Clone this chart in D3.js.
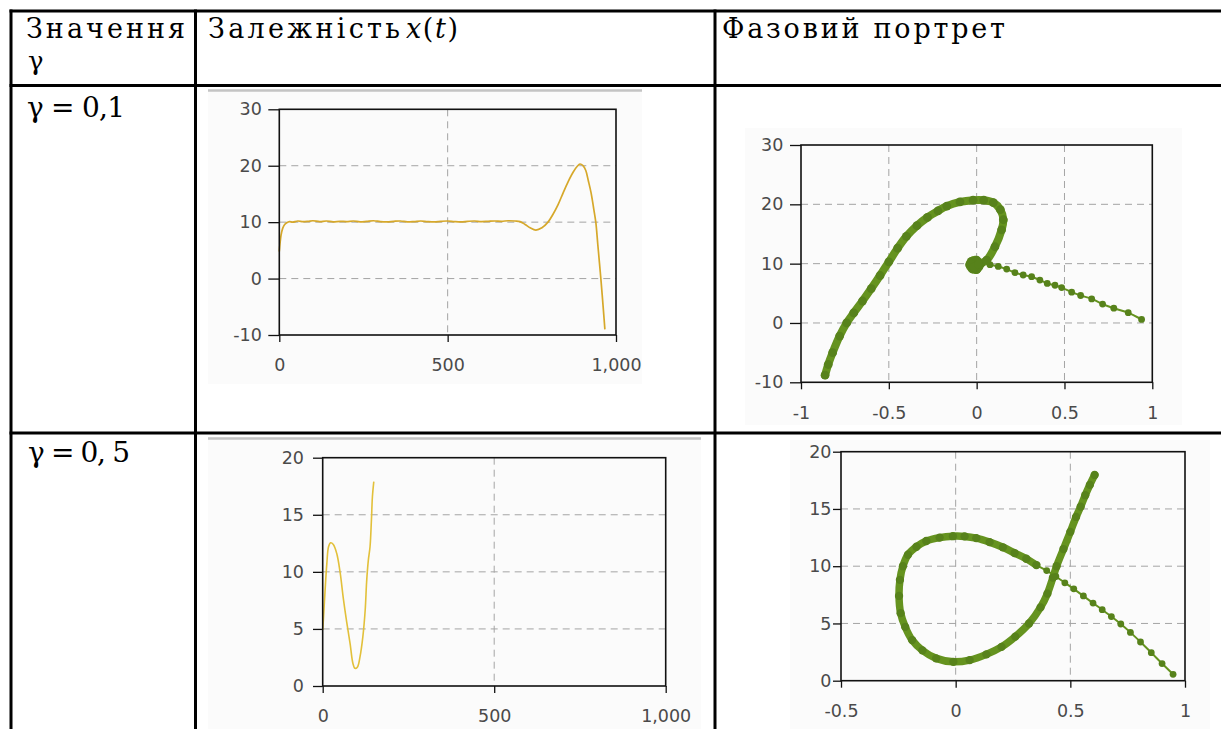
<!DOCTYPE html>
<html>
<head>
<meta charset="utf-8">
<script src="https://cdn.jsdelivr.net/npm/d3@7"></script>
<style>
  body { margin: 0; background: #fff; }
  svg { display: block; }
</style>
</head>
<body>
<svg id="c" width="1221" height="729"></svg>
<script>
// ---- table text ----
const headValue = "Значення";
const headGamma = "γ";
const headTime = "Залежність";
const headPhase = "Фазовий портрет";
const rowLabels = ["γ = 0,1", "γ = 0, 5"];

// ---- tick values ----
const timeTicks = [0, 500, 1000];
const xTicks01 = [-10, 0, 10, 20, 30];
const vTicks01 = [-1, -0.5, 0, 0.5, 1];
const xTicks05 = [0, 5, 10, 15, 20];
const vTicks05 = [-0.5, 0, 0.5, 1];

// ---- x(t), gamma = 0.1 ----
const t01 = [0, 5, 10, 16, 22, 30, 40, 55, 70, 85,
  100, 120, 140, 160, 180, 200, 220, 240, 260, 280,
  300, 320, 340, 360, 380, 400, 420, 440, 460, 480,
  500, 520, 540, 560, 580, 600, 620, 640, 660, 680, 700,
  715, 730, 745, 762, 780, 798, 813, 828, 843, 858,
  873, 885, 893, 902, 910, 918, 926, 934, 940, 946,
  951, 955, 959, 963, 967];
const x01 = [4.8, 7.6, 8.9, 9.6, 9.9, 10.1, 10.0, 10.2, 10.1, 10.15,
  10.25, 10.1, 10.2, 10.05, 10.15, 10.1, 10.2, 10.05, 10.15, 10.25,
  10.1, 10.05, 10.15, 10.2, 10.05, 10.1, 10.2, 10.1, 10.05, 10.15,
  10.2, 10.1, 10.05, 10.15, 10.2, 10.1, 10.15, 10.2, 10.15, 10.25, 10.2,
  10.1, 9.6, 9.0, 8.6, 9.0, 10.0, 11.4, 13.1, 15.2, 17.2,
  18.9, 19.9, 20.3, 20.0, 19.2, 17.3, 15.2, 12.3, 10.0, 6.0,
  2.7, 0.0, -2.9, -5.9, -9.0];

// ---- x(t), gamma = 0.5 ----
const t05 = [0, 2, 7, 12, 17, 23, 31, 41, 51, 60, 70, 80, 88, 94, 101, 109, 117, 124, 128, 133, 138, 142, 145, 149];
const x05 = [4.9, 5.8, 8.4, 10.7, 12.2, 12.55, 12.4, 11.6, 9.9, 7.7, 5.6, 3.7, 2.0, 1.55, 1.65, 2.6, 4.3, 6.7, 9.1, 11.0, 12.2, 14.5, 16.6, 17.9];

// ---- phase portrait, gamma = 0.1 (velocity, position) ----
const runV01 = [0.939, 0.863, 0.781, 0.717, 0.655, 0.592, 0.541, 0.484, 0.446, 0.402, 0.36, 0.313, 0.265, 0.218, 0.171, 0.123, 0.076, 0.03];
const runX01 = [0.59, 1.73, 2.49, 3.19, 4.06, 4.63, 5.2, 5.96, 6.36, 6.66, 7.23, 7.8, 8.09, 8.49, 9.08, 9.53, 9.83, 10.0];
const loopV01 = [0.02, 0.0, -0.03, -0.04, -0.025, 0.0, 0.015, -0.01, -0.035, -0.015,
  0.01, 0.057, 0.104, 0.142, 0.152, 0.135, 0.095, 0.04, -0.02, -0.095,
  -0.17, -0.22, -0.28, -0.34, -0.40, -0.45, -0.50, -0.55, -0.60, -0.65,
  -0.70, -0.74, -0.78, -0.82, -0.845, -0.863];
const loopX01 = [10.0, 10.6, 10.4, 9.8, 9.1, 9.0, 9.6, 10.3, 10.0, 9.4,
  9.9, 10.6, 12.85, 15.7, 17.4, 19.1, 20.3, 20.7, 20.7, 20.4,
  19.7, 18.9, 17.8, 16.4, 14.6, 12.6, 10.3, 8.0, 5.8, 3.7,
  1.7, 0.0, -2.2, -5.0, -7.0, -8.8];

// ---- phase portrait, gamma = 0.5 ----
const runV05 = [0.948, 0.900, 0.853, 0.806, 0.762, 0.720, 0.679, 0.639, 0.599, 0.557, 0.515, 0.476, 0.437, 0.397];
const runX05 = [0.56, 1.50, 2.45, 3.38, 4.22, 4.95, 5.60, 6.20, 6.78, 7.40, 8.02, 8.55, 9.10, 9.62];
const loopV05 = [0.352, 0.308, 0.257, 0.206, 0.148, 0.09, 0.039, -0.012, -0.07, -0.128,
  -0.171, -0.208, -0.23, -0.243, -0.247, -0.24, -0.22, -0.19, -0.145, -0.085,
  -0.01, 0.061, 0.134, 0.2, 0.26, 0.32, 0.37, 0.40, 0.424, 0.44,
  0.47, 0.50, 0.525, 0.545, 0.565, 0.585, 0.606];
const loopX05 = [10.1, 10.65, 11.15, 11.65, 12.1, 12.45, 12.6, 12.62, 12.5, 12.2,
  11.7, 11.0, 10.0, 8.8, 7.4, 5.9, 4.7, 3.55, 2.65, 1.95,
  1.65, 1.8, 2.3, 2.95, 3.85, 5.0, 6.4, 7.6, 9.0, 10.0,
  11.5, 13.0, 14.3, 15.2, 16.2, 17.1, 17.97];

// ---- drawing ----
const svg = d3.select("#c");
const defs = svg.append("defs");
const locale = d3.formatLocale({decimal: ".", thousands: ",", grouping: [3], currency: ["", ""], minus: "-"});
const fmtTime = locale.format(",");
const fmtPlain = locale.format("");

const zip = (a, b) => a.map((v, i) => [v, b[i]]);

const TICK_FONT = "DejaVu Sans";
const TICK_COLOR = "#4a4a4a";
const GRID_COLOR = "#a4a4a4";
const GOLD = "#d6a82a";
const GOLD_LIGHT = "#e2c03a";
const GREEN_LINE = "#65931f";
const GREEN_DOT = "#57821b";

function panel(cfg, idx) {
  const g = svg.append("g");
  if (cfg.clip) {
    defs.append("clipPath").attr("id", "clip" + idx)
      .append("rect").attr("x", cfg.box[0]).attr("y", cfg.box[1])
      .attr("width", cfg.box[2]).attr("height", cfg.box[3]);
    g.attr("clip-path", `url(#clip${idx})`);
  }
  g.append("rect")
    .attr("x", cfg.box[0]).attr("y", cfg.box[1])
    .attr("width", cfg.box[2]).attr("height", cfg.box[3])
    .attr("fill", "#fbfbfb");
  if (cfg.rule) {
    g.append("line")
      .attr("x1", cfg.box[0]).attr("x2", cfg.box[0] + cfg.box[2])
      .attr("y1", cfg.box[1] + 1.5).attr("y2", cfg.box[1] + 1.5)
      .attr("stroke", "#c4c4c4").attr("stroke-width", 2.5);
  }
  const x = d3.scaleLinear().domain(cfg.xDomain).range(cfg.xRange);
  const y = d3.scaleLinear().domain(cfg.yDomain).range(cfg.yRange);
  const [x0, x1] = cfg.xRange, [y0, y1] = cfg.yRange;

  const grid = g.append("g").attr("stroke", GRID_COLOR).attr("stroke-width", 1).attr("stroke-dasharray", "7,5");
  grid.selectAll("line.h")
    .data(cfg.yTicks.filter(v => v !== cfg.yDomain[0] && v !== cfg.yDomain[1]))
    .join("line").attr("class", "h")
    .attr("x1", x0).attr("x2", x1).attr("y1", d => y(d)).attr("y2", d => y(d));
  grid.selectAll("line.v")
    .data(cfg.xTicks.filter(v => v !== cfg.xDomain[0] && v !== cfg.xDomain[1]))
    .join("line").attr("class", "v")
    .attr("y1", y1).attr("y2", y0).attr("x1", d => x(d)).attr("x2", d => x(d));

  const xAxis = g.append("g").attr("transform", `translate(0,${y0})`)
    .call(d3.axisBottom(x).tickValues(cfg.xTicks).tickFormat(cfg.xFmt)
      .tickSizeInner(7).tickSizeOuter(0).tickPadding(17));
  const yAxis = g.append("g").attr("transform", `translate(${x0},0)`)
    .call(d3.axisLeft(y).tickValues(cfg.yTicks).tickFormat(fmtPlain)
      .tickSizeInner(cfg.yTick).tickSizeOuter(0).tickPadding(cfg.yPad));
  [xAxis, yAxis].forEach(a => {
    a.select(".domain").remove();
    a.attr("font-family", TICK_FONT).attr("font-size", 17.5);
    a.selectAll(".tick line").attr("stroke", "#111").attr("stroke-width", 1.3);
    a.selectAll(".tick text").attr("fill", TICK_COLOR);
  });

  const frame = () => g.append("rect")
    .attr("x", x0).attr("y", y1).attr("width", x1 - x0).attr("height", y0 - y1)
    .attr("fill", "none").attr("stroke", "#111").attr("stroke-width", 1.6);
  return {g, x, y, frame};
}

// table frame
const table = svg.append("g").attr("stroke", "#000").attr("stroke-width", 3);
[[9.5, 11, 1221, 11], [11, 9.5, 11, 729], [195.5, 9.5, 195.5, 729], [715, 9.5, 715, 729],
 [9.5, 85.5, 1221, 85.5], [9.5, 433, 1221, 433]].forEach(([a, b, c, d]) => {
  table.append("line").attr("x1", a).attr("y1", b).attr("x2", c).attr("y2", d);
});

// headers
const head = svg.append("g").attr("font-family", "DejaVu Serif").attr("font-size", 27).attr("fill", "#000");
head.append("text").attr("x", 26).attr("y", 38).attr("textLength", 159).attr("lengthAdjust", "spacing").text(headValue);
head.append("text").attr("x", 28).attr("y", 70).attr("font-family", "DejaVu Serif").attr("font-size", 26).text(headGamma);
head.append("text").attr("x", 208).attr("y", 38).attr("textLength", 192).attr("lengthAdjust", "spacing").text(headTime);
const xt = head.append("text").attr("x", 406).attr("y", 38).attr("font-size", 27).attr("textLength", 52).attr("lengthAdjust", "spacing");
xt.append("tspan").attr("font-style", "italic").text("x");
xt.append("tspan").text("(");
xt.append("tspan").attr("font-style", "italic").text("t");
xt.append("tspan").text(")");
head.append("text").attr("x", 722).attr("y", 38).attr("textLength", 283).attr("lengthAdjust", "spacing").text(headPhase);

const rowG = svg.append("g").attr("font-family", "DejaVu Serif").attr("font-size", 28).attr("fill", "#000");
rowG.append("text").attr("x", 27).attr("y", 117).attr("textLength", 98).attr("lengthAdjust", "spacing").text(rowLabels[0]);
rowG.append("text").attr("x", 28).attr("y", 462).attr("textLength", 102).attr("lengthAdjust", "spacing").text(rowLabels[1]);

// x(t), gamma = 0.1
const pA = panel({box: [208, 89, 434, 295], clip: true, rule: true,
  xDomain: [0, 1000], xRange: [279.3, 616], yDomain: [-10, 30], yRange: [335, 109.3],
  xTicks: timeTicks, yTicks: xTicks01, xFmt: fmtTime, yTick: 11, yPad: 6.5}, 0);
pA.g.append("path").datum(zip(t01, x01))
  .attr("d", d3.line().x(d => pA.x(d[0])).y(d => pA.y(d[1])).curve(d3.curveCatmullRom))
  .attr("fill", "none").attr("stroke", GOLD).attr("stroke-width", 1.7);
pA.frame();

// x(t), gamma = 0.5
const pC = panel({box: [208, 437, 493, 292], clip: false, rule: true,
  xDomain: [0, 1000], xRange: [322.7, 665.7], yDomain: [0, 20], yRange: [686, 457.7],
  xTicks: timeTicks, yTicks: xTicks05, xFmt: fmtTime, yTick: 9.7, yPad: 9}, 1);
pC.g.append("path").datum(zip(t05, x05))
  .attr("d", d3.line().x(d => pC.x(d[0])).y(d => pC.y(d[1])).curve(d3.curveCatmullRom))
  .attr("fill", "none").attr("stroke", GOLD_LIGHT).attr("stroke-width", 1.6);
pC.frame();

// phase trajectory: fast part as thin line with markers, slow part as a dense thick band
function trajectory(p, runV, runX, loopV, loopX, band) {
  const run = zip(runV, runX), loop = zip(loopV, loopX);
  const line = d3.line().x(d => p.x(d[0])).y(d => p.y(d[1])).curve(d3.curveCatmullRom);
  p.g.append("path").datum(run.concat([loop[0]])).attr("d", line)
    .attr("fill", "none").attr("stroke", GREEN_LINE).attr("stroke-width", 2);
  p.g.append("path").datum(loop).attr("d", line)
    .attr("fill", "none").attr("stroke", GREEN_LINE).attr("stroke-width", band)
    .attr("stroke-linecap", "round").attr("stroke-linejoin", "round");
  p.g.append("g").selectAll("circle").data(run).join("circle")
    .attr("cx", d => p.x(d[0])).attr("cy", d => p.y(d[1])).attr("r", 3.4)
    .attr("fill", GREEN_DOT);
  p.g.append("g").selectAll("circle").data(loop).join("circle")
    .attr("cx", d => p.x(d[0])).attr("cy", d => p.y(d[1])).attr("r", band / 2 + 0.4)
    .attr("fill", GREEN_DOT);
}

// phase portrait, gamma = 0.1
const pB = panel({box: [745, 128, 437, 297], clip: false, rule: false,
  xDomain: [-1, 1], xRange: [801, 1152.3], yDomain: [-10, 30], yRange: [382.3, 145],
  xTicks: vTicks01, yTicks: xTicks01, xFmt: fmtPlain, yTick: 11, yPad: 6.7}, 2);
trajectory(pB, runV01, runX01, loopV01, loopX01, 8);
pB.frame();

// phase portrait, gamma = 0.5
const pD = panel({box: [790, 440, 420, 289], clip: false, rule: false,
  xDomain: [-0.5, 1], xRange: [841, 1185], yDomain: [0, 20], yRange: [680.7, 451.7],
  xTicks: vTicks05, yTicks: xTicks05, xFmt: fmtPlain, yTick: 8, yPad: 1.5}, 3);
trajectory(pD, runV05, runX05, loopV05, loopX05, 7.5);
pD.frame();
</script>
</body>
</html>
